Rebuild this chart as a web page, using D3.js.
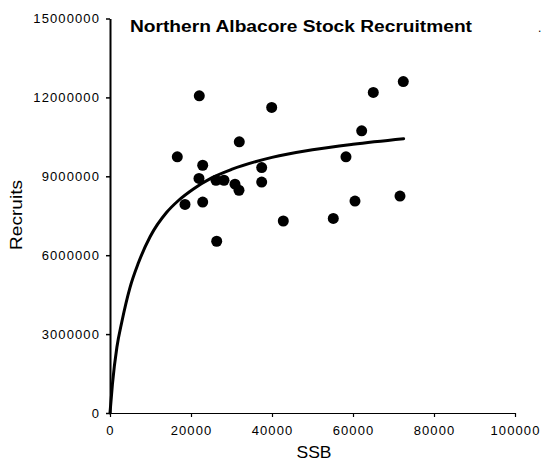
<!DOCTYPE html>
<html>
<head>
<meta charset="utf-8">
<script src="https://cdn.jsdelivr.net/npm/d3@7"></script>
<style>
  html, body { margin: 0; padding: 0; background: #fff; }
  svg { display: block; }
</style>
</head>
<body>
<svg id="chart" width="543" height="463"></svg>
<script>
// Observed spawning stock biomass (SSB) and recruits
const ssb = [22048, 39924, 31924, 16617, 22888, 21974, 26171, 28147, 30863, 31850,
             37455, 37455, 18518, 22888, 42788, 26344, 55133, 58268, 60490, 62145,
             65010, 71601, 72416];
const recruits = [12060000, 11620000, 10310000, 9740000, 9420000, 8920000, 8850000, 8850000, 8700000, 8470000,
                  9330000, 8780000, 7930000, 8020000, 7300000, 6530000, 7400000, 9740000, 8060000, 10730000,
                  12190000, 8250000, 12600000];

// Fitted stock-recruitment curve
const fitSsb = [0, 600, 1700, 2900, 4900, 7000, 9900, 14000, 16900, 20600, 25000, 30000, 40000, 50000, 60000, 72500];
const fitRecruits = [0, 1100000, 2500000, 3450000, 4750000, 5700000, 6700000, 7630000, 8080000, 8520000,
                     8930000, 9260000, 9720000, 10010000, 10220000, 10430000];

const xTicks = [0, 20000, 40000, 60000, 80000, 100000];
const yTicks = [0, 3000000, 6000000, 9000000, 12000000, 15000000];

const titleText = "Northern Albacore Stock Recruitment";
const xLabel = "SSB";
const yLabel = "Recruits";

const svg = d3.select("#chart");
const font = "'Liberation Sans', Arial, sans-serif";

const x = d3.scaleLinear().domain([0, 100000]).range([110, 515]);
const y = d3.scaleLinear().domain([0, 15000000]).range([413, 18.5]);

// X axis
const xAxis = svg.append("g")
  .attr("transform", `translate(0,${y(0)})`)
  .call(d3.axisBottom(x).tickValues(xTicks).tickFormat(d3.format("d")).tickSize(4).tickSizeOuter(0).tickPadding(9));
xAxis.select(".domain").attr("stroke", "#000").attr("stroke-width", 1.2);
xAxis.selectAll(".tick line").attr("stroke", "#000").attr("stroke-width", 1.2);
xAxis.selectAll(".tick text")
  .attr("font-family", font).attr("font-size", 13).attr("letter-spacing", 1.1)
  .attr("fill", "#000");

// Y axis
const yAxis = svg.append("g")
  .attr("transform", `translate(${x(0)},0)`)
  .call(d3.axisLeft(y).tickValues(yTicks).tickFormat(d3.format("d")).tickSize(4).tickSizeOuter(0).tickPadding(6));
yAxis.select(".domain").attr("stroke", "#000").attr("stroke-width", 2);
yAxis.selectAll(".tick line").attr("stroke", "#000").attr("stroke-width", 1.5);
yAxis.selectAll(".tick text")
  .attr("font-family", font).attr("font-size", 13).attr("letter-spacing", 1.1)
  .attr("fill", "#000");

// Fitted curve
const fitData = fitSsb.map((s, i) => [s, fitRecruits[i]]);
svg.append("path")
  .datum(fitData)
  .attr("fill", "none")
  .attr("stroke", "#000")
  .attr("stroke-width", 3)
  .attr("stroke-linejoin", "round")
  .attr("stroke-linecap", "round")
  .attr("d", d3.line().x(d => x(d[0])).y(d => y(d[1])).curve(d3.curveMonotoneX));

// Observations
svg.append("g")
  .selectAll("circle")
  .data(ssb.map((s, i) => [s, recruits[i]]))
  .join("circle")
  .attr("cx", d => x(d[0]))
  .attr("cy", d => y(d[1]))
  .attr("r", 5.5)
  .attr("fill", "#000");

// Title
svg.append("text")
  .attr("x", 301).attr("y", 32)
  .attr("text-anchor", "middle")
  .attr("font-family", font).attr("font-weight", "bold").attr("font-size", 16)
  .attr("textLength", 342).attr("lengthAdjust", "spacingAndGlyphs")
  .text(titleText);

svg.append("text")
  .attr("x", 538).attr("y", 32)
  .attr("font-family", font).attr("font-size", 12)
  .text(".");

// Axis titles
svg.append("text")
  .attr("x", 314).attr("y", 458)
  .attr("text-anchor", "middle")
  .attr("font-family", font).attr("font-size", 17)
  .attr("textLength", 35).attr("lengthAdjust", "spacingAndGlyphs")
  .text(xLabel);

svg.append("text")
  .attr("transform", "translate(22,215) rotate(-90)")
  .attr("text-anchor", "middle")
  .attr("font-family", font).attr("font-size", 16)
  .attr("textLength", 70).attr("lengthAdjust", "spacingAndGlyphs")
  .text(yLabel);
</script>
</body>
</html>
